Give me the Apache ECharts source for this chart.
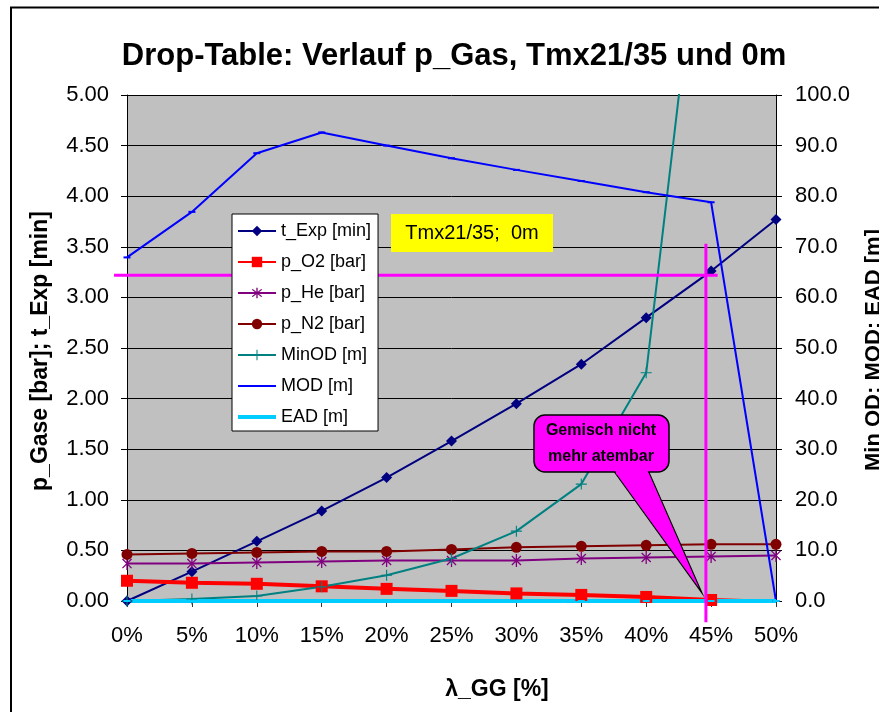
<!DOCTYPE html>
<html>
<head>
<meta charset="utf-8">
<script src="https://cdn.jsdelivr.net/npm/echarts@6/dist/echarts.min.js"></script>
<style>
html,body{margin:0;padding:0;background:#fff;}
#chart{width:879px;height:712px;}
</style>
</head>
<body>
<div id="chart"></div>
<script>
// ---- data ----
const lambdaGG = [0, 5, 10, 15, 20, 25, 30, 35, 40, 45, 50];          // λ_GG [%]
const tExp   = [0, 0.29, 0.59, 0.89, 1.22, 1.58, 1.95, 2.34, 2.80, 3.26, 3.77];
const pO2    = [0.20, 0.18, 0.17, 0.145, 0.12, 0.10, 0.075, 0.06, 0.04, 0.01, -0.01];
const pHe    = [0.37, 0.37, 0.38, 0.39, 0.40, 0.40, 0.40, 0.42, 0.43, 0.44, 0.45];
const pN2    = [0.46, 0.47, 0.48, 0.49, 0.49, 0.51, 0.53, 0.54, 0.55, 0.56, 0.56];
const minOD  = [0, 0.4, 1.0, 2.8, 5.1, 8.4, 13.8, 23.1, 45.1, 154, null];
const mod    = [67.9, 76.9, 88.5, 92.6, 90.0, 87.5, 85.2, 83.0, 80.8, 78.8, 0];
const ead    = [0, 0, 0, 0, 0, 0, 0, 0, 0, 0, 0];
const leftTicks  = {min: 0, max: 5, interval: 0.5};
const rightTicks = {min: 0, max: 100, interval: 10};
// annotation (limit of breathability)
const limitLambda = 44.6;
const limitTExp = 3.22;

const FONT = '"Liberation Sans", Arial, sans-serif';
const pairs = arr => lambdaGG.map((x, i) => [x, arr[i]]);

const starPath = 'path://M-1,-10 L1,-10 L1,10 L-1,10 Z M-7.7,-6.3 L-6.3,-7.7 L7.7,6.3 L6.3,7.7 Z M6.3,-7.7 L7.7,-6.3 L-6.3,7.7 L-7.7,6.3 Z';
const plusPath = 'path://M-1,-10 L1,-10 L1,10 L-1,10 Z M-10,-1 L10,-1 L10,1 L-10,1 Z';

const chart = echarts.init(document.getElementById('chart'), null, {renderer: 'canvas'});

function mk(name, data, color, width, symbol, size, yIdx, extra) {
  return Object.assign({
    name, type: 'line', yAxisIndex: yIdx, data: pairs(data),
    symbol, symbolSize: size, showSymbol: true, symbolKeepAspect: true,
    lineStyle: {color, width}, itemStyle: {color},
    connectNulls: false, animation: false, clip: true, z: 3
  }, extra || {});
}

const option = {
  animation: false,
  backgroundColor: '#fff',
  title: {
    text: 'Drop-Table: Verlauf p_Gas, Tmx21/35 und 0m',
    left: 449, top: 36, textAlign: 'center',
    textStyle: {fontFamily: FONT, fontSize: 31, fontWeight: 'bold', color: '#000'}
  },
  grid: {left: 127, right: 103, top: 95, bottom: 111, show: true, backgroundColor: '#c0c0c0', borderWidth: 0},
  legend: {
    orient: 'vertical', left: 232, top: 214, z: 4,
    itemWidth: 38, itemHeight: 13, itemGap: 13,
    padding: [8, 7, 5, 5],
    backgroundColor: '#fff', borderColor: '#000', borderWidth: 1,
    textStyle: {fontFamily: FONT, fontSize: 18, color: '#000'},
    data: ['t_Exp [min]', 'p_O2 [bar]', 'p_He [bar]', 'p_N2 [bar]', 'MinOD [m]',
      {name: 'MOD [m]', icon: 'path://M0,0 L38,0 L38,2 L0,2 Z'},
      {name: 'EAD [m]', icon: 'path://M0,0 L38,0 L38,4 L0,4 Z'}]
  },
  xAxis: {
    type: 'value', min: 0, max: 50, interval: 5,
    axisLine: {show: true, lineStyle: {color: '#000', width: 1}},
    axisTick: {show: true, length: 6, lineStyle: {color: '#333'}},
    splitLine: {show: false},
    axisLabel: {formatter: v => v + '%', fontFamily: FONT, fontSize: 22, color: '#000', margin: 24}
  },
  yAxis: [{
    type: 'value', min: leftTicks.min, max: leftTicks.max, interval: leftTicks.interval,
    axisLine: {show: true, lineStyle: {color: '#000', width: 1}},
    axisTick: {show: true, length: 6, lineStyle: {color: '#000'}},
    splitLine: {show: true, lineStyle: {color: '#000', width: 1}},
    axisLabel: {formatter: v => v.toFixed(2), fontFamily: FONT, fontSize: 22, color: '#000', margin: 18}
  }, {
    type: 'value', min: rightTicks.min, max: rightTicks.max, interval: rightTicks.interval,
    position: 'right',
    axisLine: {show: true, lineStyle: {color: '#000', width: 1}},
    axisTick: {show: true, length: 6, lineStyle: {color: '#000'}},
    splitLine: {show: false},
    axisLabel: {formatter: v => v.toFixed(1), fontFamily: FONT, fontSize: 22, color: '#000', margin: 19}
  }],
  series: [
    mk('t_Exp [min]', tExp, '#000080', 2, 'diamond', 11, 0),
    mk('p_O2 [bar]', pO2, '#ff0000', 4, 'rect', 12, 0),
    mk('p_He [bar]', pHe, '#800080', 2, starPath, 13, 0),
    mk('p_N2 [bar]', pN2, '#800000', 2, 'circle', 11, 0),
    mk('MinOD [m]', minOD, '#008080', 2, plusPath, 11, 1),
    mk('MOD [m]', mod, '#0000ff', 2, 'rect', [7, 2], 1),
    mk('EAD [m]', ead, '#00ccff', 4, 'rect', [7, 2], 1)
  ]
};
chart.setOption(option);

// ---- annotations built from the axes ----
const px = (x, y) => chart.convertToPixel({xAxisIndex: 0, yAxisIndex: 0}, [x, y]);
const hL = px(-1, limitTExp), hR = px(45.5, limitTExp);
const vT = px(limitLambda, 3.53), vB = px(limitLambda, -0.21);

chart.setOption({
  graphic: [
    {type: 'rect', shape: {x: 11, y: 7.5, width: 900, height: 800}, style: {fill: 'none', stroke: '#000', lineWidth: 2}, z: 0, silent: true},
    {type: 'line', shape: {x1: hL[0], y1: hL[1], x2: hR[0], y2: hR[1]}, style: {stroke: '#ff00ff', lineWidth: 3}, z: 3.5},
    {type: 'line', shape: {x1: vT[0], y1: vT[1], x2: vB[0], y2: vB[1]}, style: {stroke: '#ff00ff', lineWidth: 3}, z: 3.5},
    {type: 'rect', shape: {x: 391, y: 214, width: 162, height: 38}, style: {fill: '#ffff00'}, z: 6},
    {type: 'text', x: 472, y: 233, style: {text: 'Tmx21/35;  0m', fontFamily: FONT, fontSize: 20, fill: '#000', align: 'center', verticalAlign: 'middle'}, z: 7},
    // callout
    {type: 'polygon', shape: {points: [[613, 470], [702, 593], [648, 470]]}, style: {fill: '#ff00ff', stroke: '#000', lineWidth: 1.2}, z: 6},
    {type: 'rect', shape: {x: 534, y: 415, width: 135, height: 57, r: 11}, style: {fill: '#ff00ff', stroke: '#000', lineWidth: 1.5}, z: 6},
    {type: 'polygon', shape: {points: [[614.5, 468], [647, 468], [648.6, 475], [616.8, 475]]}, style: {fill: '#ff00ff'}, z: 7},
    {type: 'text', x: 601, y: 444, style: {text: 'Gemisch nicht\nmehr atembar', fontFamily: FONT, fontSize: 16, fontWeight: 'bold', lineHeight: 26, fill: '#000', align: 'center', verticalAlign: 'middle'}, z: 8},
    // axis titles
    {type: 'text', x: 41, y: 351, rotation: Math.PI / 2, style: {text: 'p_Gase [bar]; t_Exp [min]', fontFamily: FONT, fontSize: 23, fontWeight: 'bold', fill: '#000', align: 'center', verticalAlign: 'middle'}, z: 5},
    {type: 'text', x: 874, y: 350, rotation: Math.PI / 2, style: {text: 'Min OD; MOD; EAD [m]', fontFamily: FONT, fontSize: 22, fontWeight: 'bold', fill: '#000', align: 'center', verticalAlign: 'middle'}, z: 5},
    {type: 'text', x: 497, y: 690, style: {text: 'λ_GG [%]', fontFamily: FONT, fontSize: 23, fontWeight: 'bold', fill: '#000', align: 'center', verticalAlign: 'middle'}, z: 5}
  ]
});
</script>
</body>
</html>
